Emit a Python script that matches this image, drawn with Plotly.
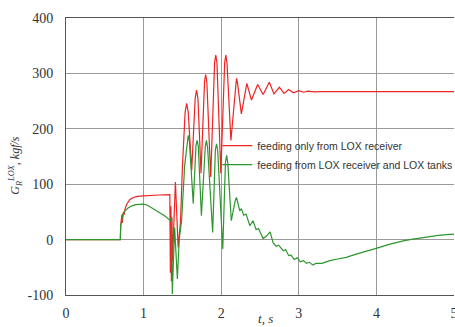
import plotly.graph_objects as go

# ---- data ----
t_red = [0, 0.70, 0.705, 0.715, 0.72, 0.725, 0.73, 0.735, 0.74, 0.75, 0.76, 0.78, 0.82, 0.87, 0.92, 1.0, 1.1, 1.2, 1.338,
         1.345, 1.352, 1.358, 1.365, 1.372, 1.385, 1.41, 1.445, 1.475, 1.50, 1.535, 1.555, 1.575, 1.62, 1.665, 1.682, 1.70, 1.74,
         1.785, 1.80, 1.815, 1.865, 1.915, 1.93, 1.945, 1.995, 2.045, 2.06, 2.075, 2.125, 2.185, 2.197, 2.21, 2.26, 2.33,
         2.39, 2.47, 2.54, 2.62, 2.68, 2.75, 2.81, 2.87, 2.93, 3.0, 3.06, 3.12, 3.2, 3.3, 4.0, 5.0]
v_red = [0, 0, 25, 35, 45, 30, 48, 35, 50, 45, 55, 63, 72, 76, 78, 79, 80, 80.5, 81,
         -60, 60, -75, 40, -40, 10, 104, -14, 31, 130, 230, 246, 230, 125, 255, 270, 255, 120,
         285, 298, 285, 113, 320, 333, 320, 120, 320, 333, 318, 179, 283, 291, 283, 227, 282,
         252, 280, 262, 284, 263, 275, 264, 271, 265, 269, 266, 268, 266.5, 267, 267, 267]

t_green = [0, 0.70, 0.705, 0.715, 0.72, 0.73, 0.74, 0.76, 0.80, 0.85, 0.90, 0.95, 1.0, 1.05, 1.10, 1.15, 1.21, 1.27,
           1.33, 1.345, 1.36, 1.37, 1.40, 1.435, 1.46, 1.49, 1.53, 1.56, 1.575, 1.59, 1.64, 1.675, 1.69, 1.705, 1.745,
           1.795, 1.81, 1.825, 1.89, 1.925, 1.94, 1.955, 2.02, 2.055, 2.07, 2.085, 2.13, 2.18, 2.197, 2.24, 2.26,
           2.29, 2.32, 2.37, 2.41, 2.45, 2.48, 2.54, 2.58, 2.63, 2.67, 2.71, 2.74, 2.80, 2.83, 2.87, 2.90, 2.94,
           2.98, 3.02, 3.06, 3.10, 3.14, 3.18, 3.22, 3.30, 3.40, 3.50, 3.61, 3.72, 3.83, 3.94, 4.04, 4.15, 4.26,
           4.36, 4.47, 4.58, 4.68, 4.80, 4.90, 5.0]
v_green = [0, 0, 25, 35, 42, 45, 47, 52, 57, 61, 63, 64, 64, 62, 58, 54, 49, 43,
           36, 34, 40, -98, 22, -71, 1, 35, 135, 180, 188, 178, 65, 170, 179, 168, 43,
           168, 179, 166, 13, 162, 173, 160, -17, 140, 152, 138, 34, 70, 76, 52, 56,
           44, 46, 25, 34, 18, 20, 2, 6, 14, -6, -12, -10, -20, -18, -29, -28, -36,
           -33, -40, -38, -43, -41, -46, -43, -43, -38, -35, -32, -27, -23, -18, -14, -9, -5,
           -2, 1, 3.5, 5.5, 7.5, 9, 10]

name_red = "feeding only from LOX receiver"
name_green = "feeding from LOX receiver and LOX tanks"

x_ticks = [0, 1, 2, 3, 4, 5]
x_ticklabels = ["0", "1", "2", "3", "4", "5"]
y_ticks = [-100, 0, 100, 200, 300, 400]
y_ticklabels = ["-100", "0", "100", "200", "300", "400"]

fig = go.Figure()
fig.add_trace(go.Scatter(x=t_red, y=v_red, mode="lines", name=name_red,
                         line=dict(color="#ee2424", width=1.2)))
fig.add_trace(go.Scatter(x=t_green, y=v_green, mode="lines", name=name_green,
                         line=dict(color="#2e962e", width=1.2)))

serif = "Liberation Serif"
fig.update_layout(
    width=455, height=327,
    margin=dict(l=66, r=1, t=18, b=32, autoexpand=False),
    paper_bgcolor="white", plot_bgcolor="white",
    showlegend=True,
    legend=dict(x=0.39, y=0.505, xanchor="left", yanchor="middle",
                bgcolor="rgba(255,255,255,0)", borderwidth=0,
                font=dict(family="Liberation Sans", size=10.5, color="#333"),
                tracegroupgap=0),
    xaxis=dict(range=[0, 5], tickvals=x_ticks, ticktext=x_ticklabels, automargin=False,
               ticklabeloverflow="allow",
               showgrid=True, gridcolor="#9a9a9a", gridwidth=1,
               showline=True, linecolor="#555", linewidth=1, mirror=True,
               ticks="", ticklabelstandoff=5, zeroline=False,
               tickfont=dict(family=serif, size=14, color="#333")),
    yaxis=dict(range=[-100, 400], tickvals=y_ticks, ticktext=y_ticklabels, automargin=False,
               showgrid=True, gridcolor="#9a9a9a", gridwidth=1,
               showline=True, linecolor="#555", linewidth=1,
               ticks="", ticklabelstandoff=9, zeroline=False,
               tickfont=dict(family=serif, size=14, color="#333")),
    annotations=[
        dict(text="<i>t</i>, <i>s</i>", xref="paper", yref="paper", x=0.515, y=-0.085,
             xanchor="center", yanchor="middle", showarrow=False,
             font=dict(family=serif, size=13, color="#333")),
        dict(text="<i>G<sub>R</sub><sup>LOX</sup>, kgf/s</i>", xref="paper", yref="paper",
             x=-0.129, y=0.47, xanchor="center", yanchor="middle", textangle=-90,
             showarrow=False, font=dict(family=serif, size=12, color="#333")),
    ],
)

fig.write_html("out.html")
